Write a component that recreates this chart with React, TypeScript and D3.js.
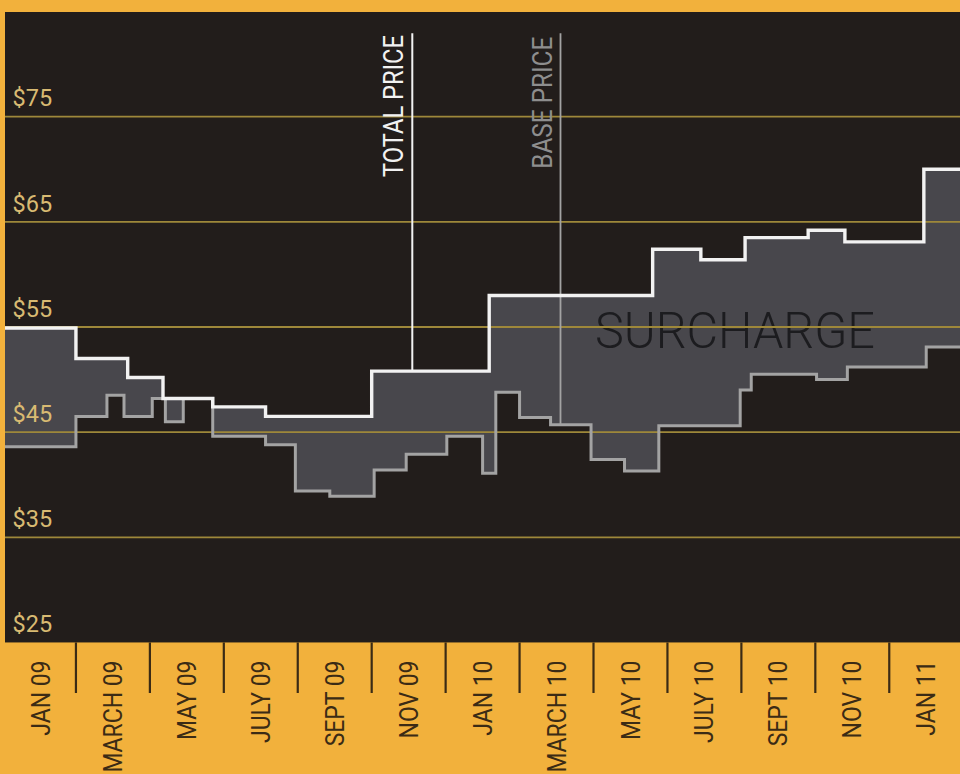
import React from "react";
import * as d3 from "d3";

const WIDTH = 960;
const HEIGHT = 774;

// Price change dates and the total price (base + surcharge) from each date, USD
const totalDates = [
  "2009-01-01", "2009-03-01", "2009-04-13", "2009-05-12", "2009-06-22",
  "2009-08-05", "2009-11-01", "2010-02-06", "2010-06-19", "2010-07-29",
  "2010-09-04", "2010-10-26", "2010-11-25", "2011-01-30",
];
const totalPrices = [
  54.9, 52.0, 50.2, 48.2, 47.4,
  46.5, 50.8, 58.0, 62.4, 61.4,
  63.5, 64.2, 63.1, 70.0,
];

// Base price change dates and values, USD
const baseDates = [
  "2009-01-01", "2009-03-01", "2009-03-27", "2009-04-10", "2009-05-03",
  "2009-05-14", "2009-05-29", "2009-06-22", "2009-08-05", "2009-08-30",
  "2009-09-27", "2009-11-03", "2009-11-29", "2010-01-02", "2010-02-01",
  "2010-02-11", "2010-03-01", "2010-03-27", "2010-04-29", "2010-05-27",
  "2010-06-24", "2010-08-31", "2010-09-09", "2010-11-02", "2010-11-27",
  "2011-02-01",
];
const basePrices = [
  43.6, 46.5, 48.5, 46.5, 48.2,
  46.0, 48.2, 44.6, 43.8, 39.4,
  38.9, 41.4, 42.9, 44.6, 41.1,
  48.8, 46.4, 45.7, 42.4, 41.3,
  45.6, 49.0, 50.5, 50.0, 51.2,
  53.1,
];

const priceTicks = [25, 35, 45, 55, 65, 75];
const monthLabels = [
  "JAN 09", "MARCH 09", "MAY 09", "JULY 09", "SEPT 09", "NOV 09",
  "JAN 10", "MARCH 10", "MAY 10", "JULY 10", "SEPT 10", "NOV 10", "JAN 11",
];

const START_YEAR = 2009;
const SPAN_MONTHS = 26;

// Fractional month offset from Jan 2009
function monthPos(s: string): number {
  const [yy, mm, dd] = s.split("-").map(Number);
  const daysInMonth = new Date(yy, mm, 0).getDate();
  return (yy - START_YEAR) * 12 + (mm - 1) + (dd - 1) / daysInMonth;
}

const COLORS = {
  page: "#f2b13c",
  plot: "#221d1b",
  fill: "#48474c",
  grid: "#9e883a",
  tickLabel: "#d8ba72",
  total: "#f2f2f2",
  base: "#a3a3a3",
  baseLabel: "#8e8e8e",
  month: "#3b2b15",
  surcharge: "#1c1c1f",
};

const FONT = "Roboto, 'DejaVu Sans', sans-serif";

export default function App() {
  const plotLeft = 5;
  const plotTop = 12;

  const x = d3.scaleLinear().domain([0, SPAN_MONTHS]).range([2, 963.2]);
  const y = d3.scaleLinear().domain([25, 75]).range([642.45, 116.7]);
  const plotBottom = y(25);

  type Pt = { m: number; v: number };
  const totalPts: Pt[] = totalDates.map((d, i) => ({ m: monthPos(d), v: totalPrices[i] }));
  const basePts: Pt[] = baseDates.map((d, i) => ({ m: monthPos(d), v: basePrices[i] }));
  const withEnd = (pts: Pt[]) => [...pts, { m: SPAN_MONTHS, v: pts[pts.length - 1].v }];

  const stepValue = (pts: Pt[], m: number) => {
    const i = Math.max(0, d3.bisectRight(pts.map((p) => p.m), m) - 1);
    return pts[i].v;
  };

  const line = d3
    .line<Pt>()
    .x((p) => x(p.m))
    .y((p) => y(p.v))
    .curve(d3.curveStepAfter);

  const breaks = Array.from(
    new Set([...totalPts.map((p) => p.m), ...basePts.map((p) => p.m), SPAN_MONTHS])
  ).sort((a, b) => a - b);
  const band = breaks.map((m) => ({ m, lo: stepValue(basePts, m), hi: stepValue(totalPts, m) }));
  const area = d3
    .area<{ m: number; lo: number; hi: number }>()
    .x((d) => x(d.m))
    .y0((d) => y(d.lo))
    .y1((d) => y(d.hi))
    .curve(d3.curveStepAfter);

  // Legend leader lines drop from the top onto their series
  const totalLegendX = 412.3;
  const baseLegendX = 560.5;
  const legendTop = 33.3;
  const totalLegendEnd = y(stepValue(totalPts, x.invert(totalLegendX)));
  const baseLegendEnd = y(stepValue(basePts, x.invert(baseLegendX)));

  const separators = d3.range(2, SPAN_MONTHS, 2);

  return (
    <svg
      width={WIDTH}
      height={HEIGHT}
      style={{ position: "absolute", left: 0, top: 0, display: "block" }}
      fontFamily={FONT}
    >
      <defs>
        <clipPath id="plot-clip">
          <rect x={plotLeft} y={plotTop} width={WIDTH - plotLeft + 10} height={plotBottom - plotTop} />
        </clipPath>
      </defs>
      <rect x={0} y={0} width={WIDTH} height={HEIGHT} fill={COLORS.page} />
      <rect
        x={plotLeft}
        y={plotTop}
        width={WIDTH - plotLeft + 10}
        height={plotBottom - plotTop}
        fill={COLORS.plot}
      />

      <g clipPath="url(#plot-clip)">
        <path d={area(band) ?? ""} fill={COLORS.fill} />
        <text
          x={595}
          y={348.3}
          fontSize={50}
          fontWeight={300}
          fill={COLORS.surcharge}
          textLength={280}
          lengthAdjust="spacingAndGlyphs"
        >
          SURCHARGE
        </text>

        {priceTicks.slice(1).map((t) => (
          <line
            key={t}
            x1={plotLeft}
            x2={WIDTH}
            y1={y(t)}
            y2={y(t)}
            stroke={COLORS.grid}
            strokeWidth={1.8}
          />
        ))}

        <line
          x1={totalLegendX}
          x2={totalLegendX}
          y1={legendTop}
          y2={totalLegendEnd}
          stroke={COLORS.total}
          strokeWidth={2}
        />
        <line
          x1={baseLegendX}
          x2={baseLegendX}
          y1={legendTop}
          y2={baseLegendEnd}
          stroke={COLORS.base}
          strokeWidth={1.8}
        />

        <path
          d={line(withEnd(basePts)) ?? ""}
          fill="none"
          stroke={COLORS.base}
          strokeWidth={3}
          strokeLinejoin="miter"
        />
        <path
          d={line(withEnd(totalPts)) ?? ""}
          fill="none"
          stroke={COLORS.total}
          strokeWidth={3.4}
          strokeLinejoin="miter"
        />
      </g>

      <text
        transform={`translate(403.3, 35) rotate(-90)`}
        textAnchor="end"
        fontSize={27}
        fill={COLORS.total}
        textLength={142}
        lengthAdjust="spacingAndGlyphs"
      >
        TOTAL PRICE
      </text>
      <text
        transform={`translate(551.7, 36.7) rotate(-90)`}
        textAnchor="end"
        fontSize={27}
        fill={COLORS.baseLabel}
        textLength={132}
        lengthAdjust="spacingAndGlyphs"
      >
        BASE PRICE
      </text>

      {priceTicks.map((t) => (
        <text key={t} x={12.5} y={y(t) - 10.3} fontSize={23.5} fill={COLORS.tickLabel}>
          {`$${t}`}
        </text>
      ))}

      {separators.map((m) => (
        <line
          key={m}
          x1={x(m)}
          x2={x(m)}
          y1={plotBottom}
          y2={693}
          stroke={COLORS.month}
          strokeWidth={2.2}
        />
      ))}

      {monthLabels.map((label, i) => {
        const left = Math.max(x(i * 2), plotLeft);
        const right = x(i * 2 + 2);
        const cx = (left + right) / 2;
        return (
          <text
            key={label}
            transform={`translate(${cx}, 660.5) rotate(-90) scale(0.9, 1)`}
            textAnchor="end"
            dy="0.355em"
            fontSize={25.5}
            fill={COLORS.month}
          >
            {label}
          </text>
        );
      })}
    </svg>
  );
}
